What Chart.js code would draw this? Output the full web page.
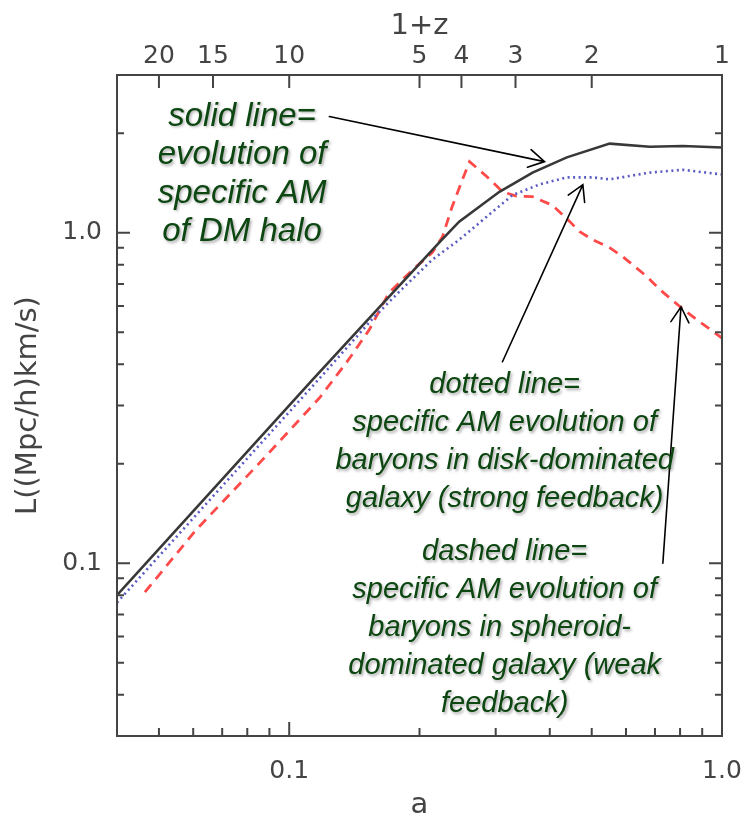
<!DOCTYPE html>
<html>
<head>
<meta charset="utf-8">
<script src="https://cdn.jsdelivr.net/npm/chart.js@4.4.1/dist/chart.umd.min.js"></script>
<style>
  html, body { margin: 0; padding: 0; background: #fff; }
  #chart { display: block; }
</style>
</head>
<body>
<canvas id="chart" width="748" height="817"></canvas>
<script>
// valores (a = fator de escala, L = momento angular específico)
var aSolid = [0.040, 0.113, 0.162, 0.193, 0.222, 0.247, 0.306, 0.365, 0.438, 0.55, 0.681, 0.812, 1.0];
var lSolid = [0.080, 0.358, 0.597, 0.765, 0.933, 1.08, 1.33, 1.52, 1.69, 1.86, 1.82, 1.83, 1.81];

var aDotted = [0.040, 0.117, 0.156, 0.180, 0.214, 0.247, 0.286, 0.328, 0.379, 0.438, 0.503, 0.55, 0.681, 0.812, 1.0];
var lDotted = [0.076, 0.360, 0.550, 0.665, 0.828, 0.952, 1.118, 1.30, 1.40, 1.47, 1.47, 1.45, 1.52, 1.55, 1.50];

var aDashed = [0.0464, 0.0609, 0.0866, 0.1174, 0.1355, 0.153, 0.170, 0.193, 0.214, 0.226, 0.238, 0.2515, 0.261,
               0.286, 0.311, 0.335, 0.365, 0.406, 0.445, 0.469, 0.503, 0.55, 0.59, 0.671, 0.719, 0.80, 0.875, 1.0];
var lDashed = [0.0817, 0.126, 0.205, 0.316, 0.404, 0.508, 0.658, 0.773, 0.870, 0.972, 1.20, 1.45, 1.64,
               1.48, 1.33, 1.29, 1.285, 1.21, 1.08, 1.007, 0.952, 0.901, 0.846, 0.736, 0.672, 0.597, 0.545, 0.48];

// eixos
var xTicks = [0.05, 0.06, 0.07, 0.08, 0.09, 0.1, 0.2, 0.3, 0.4, 0.5, 0.6, 0.7, 0.8, 0.9, 1.0];
var xMajor = [0.1, 1.0];
var xMajorLabels = ['0.1', '1.0'];
var yTicks = [0.04, 0.05, 0.06, 0.07, 0.08, 0.09, 0.1, 0.2, 0.3, 0.4, 0.5, 0.6, 0.7, 0.8, 0.9, 1.0, 2.0];
var yMajor = [0.1, 1.0];
var yMajorLabels = ['0.1', '1.0'];
var zTicks = [20, 15, 10, 5, 4, 3, 2, 1];   // 1+z no eixo de cima

// anotações (posição em coordenadas de dados)
var notes = [
  { a: 0.0778, L: 2.246, step: 38.5, size: 33, dx: [0, 0, 0, 0],
    lines: ['solid line=', 'evolution of', 'specific AM', 'of DM halo'] },
  { a: 0.3146, L: 0.346, step: 38, size: 29, dx: [0, 0, 0, 0],
    lines: ['dotted line=', 'specific AM evolution of', 'baryons in disk-dominated', 'galaxy (strong feedback)'] },
  { a: 0.3146, L: 0.108, step: 38, size: 29, dx: [0, 0, -5, 0, 0],
    lines: ['dashed line=', 'specific AM evolution of', 'baryons in spheroid-', 'dominated galaxy (weak', 'feedback)'] }
];
var arrows = [
  { from: [0.1238, 2.246], to: [0.389, 1.641] },
  { from: [0.311, 0.407], to: [0.477, 1.398] },
  { from: [0.730, 0.100], to: [0.804, 0.597] }
];

var AXIS_FONT = 'DejaVu Sans';
var AXIS_COLOR = '#444';

function pares(xs, ys) {
  return xs.map(function (x, i) { return { x: x, y: ys[i] }; });
}

function rotulo(lista, nomes, v) {
  for (var i = 0; i < lista.length; i++) {
    if (Math.abs(lista[i] - v) < 1e-6) return nomes[i];
  }
  return '';
}

function seta(ctx, x1, y1, x2, y2) {
  var ang = Math.atan2(y2 - y1, x2 - x1);
  var len = 18, abre = Math.PI / 6;
  ctx.beginPath();
  ctx.moveTo(x1, y1);
  ctx.lineTo(x2, y2);
  ctx.moveTo(x2 - len * Math.cos(ang - abre), y2 - len * Math.sin(ang - abre));
  ctx.lineTo(x2, y2);
  ctx.lineTo(x2 - len * Math.cos(ang + abre), y2 - len * Math.sin(ang + abre));
  ctx.stroke();
}

// sem folga extra por causa dos rótulos nas pontas
function semFolga(s) {
  s.paddingLeft = 0; s.paddingRight = 0; s.paddingTop = 0; s.paddingBottom = 0;
}

// moldura com marcas para dentro (estilo IDL), setas e textos
var moldura = {
  id: 'moldura',
  afterDatasetsDraw: function (chart) {
    var ctx = chart.ctx, ca = chart.chartArea;
    var sx = chart.scales.x, sy = chart.scales.y;
    ctx.save();
    ctx.strokeStyle = AXIS_COLOR;
    ctx.lineWidth = 2;
    ctx.lineCap = 'square';
    ctx.strokeRect(ca.left, ca.top, ca.right - ca.left, ca.bottom - ca.top);

    ctx.beginPath();
    xTicks.forEach(function (v) {
      var px = sx.getPixelForValue(v);
      var t = rotulo(xMajor, xMajorLabels, v) ? 13 : 7;
      ctx.moveTo(px, ca.bottom); ctx.lineTo(px, ca.bottom - t);
    });
    yTicks.forEach(function (v) {
      var py = sy.getPixelForValue(v);
      var t = rotulo(yMajor, yMajorLabels, v) ? 12 : 6;
      ctx.moveTo(ca.left, py); ctx.lineTo(ca.left + t, py);
      ctx.moveTo(ca.right, py); ctx.lineTo(ca.right - t, py);
    });
    zTicks.forEach(function (z) {
      var px = sx.getPixelForValue(1 / z);
      ctx.moveTo(px, ca.top); ctx.lineTo(px, ca.top + 12);
    });
    ctx.stroke();

    ctx.strokeStyle = '#000';
    ctx.lineWidth = 1.6;
    ctx.lineCap = 'round';
    arrows.forEach(function (s) {
      seta(ctx,
        sx.getPixelForValue(s.from[0]), sy.getPixelForValue(s.from[1]),
        sx.getPixelForValue(s.to[0]), sy.getPixelForValue(s.to[1]));
    });

    ctx.fillStyle = '#0c4610';
    ctx.textAlign = 'center';
    ctx.textBaseline = 'middle';
    ctx.shadowColor = 'rgba(0,0,0,0.35)';
    ctx.shadowBlur = 3;
    ctx.shadowOffsetX = 1.5;
    ctx.shadowOffsetY = 1.5;
    notes.forEach(function (n) {
      var cx = sx.getPixelForValue(n.a), cy = sy.getPixelForValue(n.L);
      ctx.font = 'italic ' + n.size + 'px "Liberation Sans", Arial, sans-serif';
      n.lines.forEach(function (txt, i) {
        ctx.fillText(txt, cx + n.dx[i], cy + i * n.step);
      });
    });
    ctx.restore();
  }
};

var tickFont = { family: AXIS_FONT, size: 25 };
var titleFont = { family: AXIS_FONT, size: 29, lineHeight: 1 };

new Chart(document.getElementById('chart'), {
  type: 'line',
  data: {
    datasets: [
      { data: pares(aSolid, lSolid), borderColor: '#383838', borderWidth: 2.6, pointRadius: 0 },
      { data: pares(aDotted, lDotted), borderColor: '#5a5ac4', borderWidth: 2.6, borderDash: [2, 3.5], pointRadius: 0 },
      { data: pares(aDashed, lDashed), borderColor: '#ff4a4a', borderWidth: 2.8, borderDash: [10, 7], pointRadius: 0 }
    ]
  },
  options: {
    responsive: false,
    animation: false,
    layout: { padding: { left: 0, right: 26, top: 0, bottom: 0 } },
    plugins: { legend: { display: false }, tooltip: { enabled: false } },
    scales: {
      x: {
        type: 'logarithmic', position: 'bottom', min: 0.04, max: 1,
        grid: { display: false, drawTicks: false }, border: { display: false },
        afterBuildTicks: function (s) { s.ticks = xTicks.map(function (v) { return { value: v }; }); },
        afterFit: function (s) { s.height = 81; semFolga(s); },
        ticks: {
          autoSkip: false, maxRotation: 0, padding: 20, color: AXIS_COLOR, font: tickFont,
          callback: function (v) { return rotulo(xMajor, xMajorLabels, v); }
        },
        title: { display: true, text: 'a', color: AXIS_COLOR, font: titleFont, padding: { top: 0, bottom: -3 } }
      },
      x2: {
        type: 'logarithmic', position: 'top', min: 0.04, max: 1,
        grid: { display: false, drawTicks: false }, border: { display: false },
        afterBuildTicks: function (s) { s.ticks = zTicks.map(function (z) { return { value: 1 / z }; }); },
        afterFit: function (s) { s.height = 75; semFolga(s); },
        ticks: {
          autoSkip: false, maxRotation: 0, padding: 4, color: AXIS_COLOR, font: tickFont,
          callback: function (v) { return String(Math.round(1 / v)); }
        },
        title: { display: true, text: '1+z', color: AXIS_COLOR, font: titleFont, padding: { top: 12, bottom: 0 } }
      },
      y: {
        type: 'logarithmic', position: 'left', min: 0.03, max: 3,
        grid: { display: false, drawTicks: false }, border: { display: false },
        afterBuildTicks: function (s) { s.ticks = yTicks.map(function (v) { return { value: v }; }); },
        afterFit: function (s) { s.width = 117; semFolga(s); },
        ticks: {
          autoSkip: false, padding: 15, color: AXIS_COLOR, font: tickFont,
          callback: function (v) { return rotulo(yMajor, yMajorLabels, v); }
        },
        title: { display: true, text: 'L((Mpc/h)km/s)', color: AXIS_COLOR, font: titleFont, padding: { top: 14, bottom: 0 } }
      }
    }
  },
  plugins: [moldura]
});
</script>
</body>
</html>
